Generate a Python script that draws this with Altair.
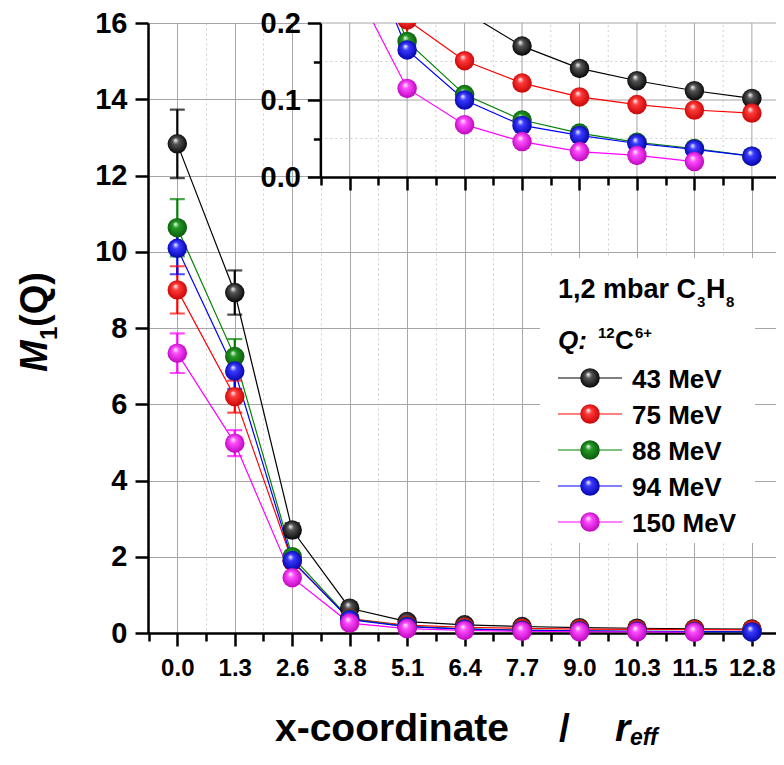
import altair as alt
import pandas as pd

# ---------------- data ----------------
x_labels = ["0.0", "1.3", "2.6", "3.8", "5.1", "6.4", "7.7", "9.0", "10.3", "11.5", "12.8"]
series_names = ["43 MeV", "75 MeV", "88 MeV", "94 MeV", "150 MeV"]
series_colors = ["#000000", "#ff0000", "#008000", "#0000ff", "#ff00ff"]
ball_mid = ["#555555", "#ff3a3a", "#239a23", "#3a3aff", "#ff4dff"]
ball_dark = ["#000000", "#c40000", "#0a550a", "#0000a8", "#b800b8"]

m_43 = [12.83, 8.93, 2.70, 0.65, 0.300, 0.215, 0.170, 0.141, 0.125, 0.112, 0.102]
m_75 = [9.00, 6.20, 1.88, 0.38, 0.204, 0.151, 0.122, 0.104, 0.094, 0.087, 0.083]
m_88 = [10.63, 7.25, 2.00, 0.37, 0.176, 0.107, 0.074, 0.057, 0.045, 0.037, 0.027]
m_94 = [10.09, 6.87, 1.90, 0.35, 0.165, 0.100, 0.067, 0.054, 0.0435, 0.036, 0.027]
m_150 = [7.34, 4.98, 1.45, 0.26, 0.115, 0.068, 0.046, 0.033, 0.028, 0.020, None]

e_43 = [0.90, 0.58, 0.18, 0.05, 0.020, 0.015, 0.012, 0.010, 0.009, 0.008, 0.007]
e_75 = [0.62, 0.42, 0.13, 0.03, 0.015, 0.011, 0.009, 0.008, 0.007, 0.006, 0.006]
e_88 = [0.75, 0.46, 0.14, 0.03, 0.013, 0.008, 0.006, 0.004, 0.003, 0.003, 0.002]
e_94 = [0.68, 0.47, 0.13, 0.03, 0.012, 0.007, 0.005, 0.004, 0.003, 0.003, 0.002]
e_150 = [0.52, 0.34, 0.10, 0.02, 0.008, 0.005, 0.003, 0.002, 0.002, 0.002, None]

main_y_ticks = [0, 1, 2, 3, 4, 5, 6, 7, 8, 9, 10, 11, 12, 13, 14, 15, 16]
main_x_ticks = [-0.5, 0, 0.5, 1, 1.5, 2, 2.5, 3, 3.5, 4, 4.5, 5, 5.5, 6, 6.5,
                7, 7.5, 8, 8.5, 9, 9.5, 10]
inset_x_ticks = [2.5, 3, 3.5, 4, 4.5, 5, 5.5, 6, 6.5, 7, 7.5, 8, 8.5, 9, 9.5, 10]
inset_y_ticks = [0, 0.05, 0.1, 0.15, 0.2]
inset_grid_x_major = [3, 4, 5, 6, 7, 8, 9, 10]
inset_grid_x_minor = [2.5, 3.5, 4.5, 5.5, 6.5, 7.5, 8.5, 9.5]
inset_grid_y_major = [0.1, 0.2]
inset_grid_y_minor = [0.05, 0.15]

main_x_domain = [-0.51, 10.42]
inset_x_domain = [2.49, 10.42]
inset_y_domain = [0, 0.2]

all_vals = [m_43, m_75, m_88, m_94, m_150]
all_errs = [e_43, e_75, e_88, e_94, e_150]

rows = []
for name, vals, errs in zip(series_names, all_vals, all_errs):
    for i, (v, e) in enumerate(zip(vals, errs)):
        if v is None:
            continue
        rows.append({"series": name, "xi": i, "v": v, "lo": v - e, "hi": v + e})
df = pd.DataFrame(rows)

FONT = "Liberation Sans"
W, H = 628, 610
INSET_H = 154


def px(i):
    return (i - main_x_domain[0]) / (main_x_domain[1] - main_x_domain[0]) * W


INSET_LEFT = px(inset_x_domain[0])

color_enc = alt.Color("series:N", scale=alt.Scale(domain=series_names, range=series_colors), legend=None)


def ball(mid, dark):
    return {
        "gradient": "radial",
        "x1": 0.4, "y1": 0.3, "r1": 0.0,
        "x2": 0.5, "y2": 0.5, "r2": 0.55,
        "stops": [
            {"offset": 0.0, "color": "#ffffff"},
            {"offset": 0.3, "color": mid},
            {"offset": 1.0, "color": dark},
        ],
    }


# ---------------- main axes ----------------
js_labels = "[" + ",".join("'" + s + "'" for s in x_labels) + "]"
main_x = alt.X(
    "xi:Q",
    scale=alt.Scale(domain=main_x_domain, nice=False, zero=False),
    axis=alt.Axis(
        values=main_x_ticks,
        labelExpr="datum.value % 1 === 0 ? " + js_labels + "[datum.value] : ''",
        tickSize={"condition": {"test": "datum.value % 1 === 0", "value": 13}, "value": 8},
        tickWidth=2.5, tickColor="black", domainColor="black", domainWidth=2.5,
        grid=True,
        gridColor={"condition": {"test": "datum.value % 1 === 0", "value": "#a6a6a6"}, "value": "#cfcfcf"},
        gridDash={"condition": {"test": "datum.value % 1 === 0", "value": []}, "value": [2, 3]},
        gridWidth=1,
        labelFont=FONT, labelFontSize=24, labelFontWeight="bold", labelColor="black",
        labelPadding=10, labelOverlap=False, labelFlush=False, labelBound=False,
        title=None,
    ),
)
main_y = alt.Y(
    "v:Q",
    scale=alt.Scale(domain=[0, 16], nice=False, zero=False),
    axis=alt.Axis(
        values=main_y_ticks,
        labelExpr="datum.value % 2 === 0 ? datum.label : ''",
        tickSize={"condition": {"test": "datum.value % 2 === 0", "value": 13}, "value": 8},
        tickWidth=2.5, tickColor="black", domainColor="black", domainWidth=2.5,
        grid=True,
        gridColor={"condition": {"test": "datum.value % 2 === 0", "value": "#a6a6a6"}, "value": "#cfcfcf"},
        gridDash={"condition": {"test": "datum.value % 2 === 0", "value": []}, "value": [2, 3]},
        gridWidth=1,
        labelFont=FONT, labelFontSize=29, labelFontWeight="bold", labelColor="black",
        labelPadding=8, labelOverlap=False, labelFlush=False, labelBound=False,
        title=None,
    ),
)

base = alt.Chart(df)
main_layers = [
    base.mark_line(strokeWidth=1.2).encode(x=main_x, y=main_y, color=color_enc),
    base.mark_rule(strokeWidth=2.2).encode(x=main_x, y=alt.Y("lo:Q"), y2="hi:Q", color=color_enc),
    base.mark_tick(orient="horizontal", thickness=2.2, size=15).encode(x=main_x, y=alt.Y("lo:Q"), color=color_enc),
    base.mark_tick(orient="horizontal", thickness=2.2, size=15).encode(x=main_x, y=alt.Y("hi:Q"), color=color_enc),
]
for name, mid, dark in zip(series_names, ball_mid, ball_dark):
    main_layers.append(
        alt.Chart(df[df.series == name]).mark_point(filled=True, fill=ball(mid, dark), size=380, opacity=1)
        .encode(x=main_x, y=main_y)
    )

# ---------------- text helpers (titles, legend) ----------------
one = pd.DataFrame({"k": [0]})


def txt(s, x, y, size, italic=False, angle=0, align="left", baseline="alphabetic"):
    kw = dict(text=s, font=FONT, fontSize=size, fontWeight="bold", color="black",
              align=align, baseline=baseline)
    if italic:
        kw["fontStyle"] = "italic"
    if angle:
        kw["angle"] = angle
    return alt.Chart(one).mark_text(**kw).encode(x=alt.value(x), y=alt.value(y))


ox, oy = 148, 23  # plot origin on the page
deco = []
# y title  M1(Q)
deco.append(txt("M", 47 - ox, 372 - oy, 38, italic=True, angle=270))
deco.append(txt("1", 57 - ox, 340 - oy, 24, angle=270))
deco.append(txt("(Q)", 47 - ox, 327 - oy, 38, angle=270))
# x title
deco.append(txt("x-coordinate", 275 - ox, 741 - oy, 39))
deco.append(txt("/", 559 - ox, 741 - oy, 39))
deco.append(txt("r", 615 - ox, 741 - oy, 39, italic=True))
deco.append(txt("eff", 630 - ox, 745 - oy, 23, italic=True))

# legend box
deco.append(
    alt.Chart(one).mark_rect(color="white", opacity=1).encode(
        x=alt.value(540 - ox), x2=alt.value(755 - ox), y=alt.value(258 - oy), y2=alt.value(543 - oy))
)
deco.append(txt("1,2 mbar C", 558 - ox, 298 - oy, 27))
deco.append(txt("3", 697 - ox, 307 - oy, 15))
deco.append(txt("H", 706 - ox, 298 - oy, 27))
deco.append(txt("8", 726 - ox, 307 - oy, 15))
deco.append(txt("Q:", 558 - ox, 349 - oy, 26, italic=True))
deco.append(txt("12", 598 - ox, 338 - oy, 15))
deco.append(txt("C", 615 - ox, 349 - oy, 26))
deco.append(txt("6+", 635 - ox, 338 - oy, 15))
for i, (name, col, mid, dark) in enumerate(zip(series_names, series_colors, ball_mid, ball_dark)):
    cy = 378 + 36 * i
    deco.append(alt.Chart(one).mark_rule(color=col, strokeWidth=1.2).encode(
        x=alt.value(558 - ox), x2=alt.value(622 - ox), y=alt.value(cy - oy)))
    deco.append(alt.Chart(one).mark_point(filled=True, fill=ball(mid, dark), size=380, opacity=1).encode(
        x=alt.value(590 - ox), y=alt.value(cy - oy)))
    deco.append(txt(name, 632 - ox, cy + 9.5 - oy, 26))

main = alt.layer(*main_layers, *deco)

# ---------------- inset ----------------
inset_x = alt.X(
    "xi:Q",
    scale=alt.Scale(domain=inset_x_domain, range=[INSET_LEFT, W], nice=False, zero=False),
    axis=alt.Axis(
        orient="bottom", offset=-(H - INSET_H), zindex=1,
        values=inset_x_ticks, labels=False,
        tickSize={"condition": {"test": "datum.value % 1 === 0", "value": 13}, "value": 8},
        tickWidth=2.5, tickColor="black", domainColor="black", domainWidth=2.5,
        grid=False, title=None,
    ),
)
inset_y = alt.Y(
    "v:Q",
    scale=alt.Scale(domain=inset_y_domain, range=[INSET_H, 0], nice=False, zero=False),
    axis=alt.Axis(
        orient="left", offset=-INSET_LEFT, zindex=1,
        values=inset_y_ticks,
        labelExpr="round(datum.value * 20) % 2 === 0 ? format(datum.value, '.1f') : ''",
        tickSize={"condition": {"test": "round(datum.value * 20) % 2 === 0", "value": 13}, "value": 7},
        tickWidth=2.5, tickColor="black", domainColor="black", domainWidth=2.5,
        labelFont=FONT, labelFontSize=29, labelFontWeight="bold", labelColor="black",
        labelPadding=7, labelOverlap=False, labelFlush=False, labelBound=False,
        grid=False, title=None,
    ),
)

bg = pd.DataFrame({"xi": [inset_x_domain[0]], "xe": [inset_x_domain[1]],
                   "v": [inset_y_domain[0]], "ve": [inset_y_domain[1]]})
gx_major = pd.DataFrame({"xi": inset_grid_x_major, "v": 0.0, "ve": 0.2})
gx_minor = pd.DataFrame({"xi": inset_grid_x_minor, "v": 0.0, "ve": 0.2})
gy_major = pd.DataFrame({"v": inset_grid_y_major, "xi": inset_x_domain[0], "xe": inset_x_domain[1]})
gy_minor = pd.DataFrame({"v": inset_grid_y_minor, "xi": inset_x_domain[0], "xe": inset_x_domain[1]})

dfi = df[df.xi >= 3]
dfp = df[df.xi >= 4]
inset_layers = [
    alt.Chart(bg).mark_rect(color="white", opacity=1).encode(x=inset_x, x2="xe:Q", y=inset_y, y2="ve:Q"),
    alt.Chart(gx_minor).mark_rule(color="#cfcfcf", strokeDash=[2, 3], strokeWidth=1).encode(x=inset_x, y=inset_y, y2="ve:Q"),
    alt.Chart(gy_minor).mark_rule(color="#cfcfcf", strokeDash=[2, 3], strokeWidth=1).encode(x=inset_x, x2="xe:Q", y=inset_y),
    alt.Chart(gx_major).mark_rule(color="#a6a6a6", strokeWidth=1).encode(x=inset_x, y=inset_y, y2="ve:Q"),
    alt.Chart(gy_major).mark_rule(color="#a6a6a6", strokeWidth=1).encode(x=inset_x, x2="xe:Q", y=inset_y),
    alt.Chart(dfi).mark_line(strokeWidth=1.2, clip=True).encode(x=inset_x, y=inset_y, color=color_enc),
    alt.Chart(dfp).mark_rule(strokeWidth=2.2, clip=True).encode(x=inset_x, y=alt.Y("lo:Q"), y2="hi:Q", color=color_enc),
]
for name, mid, dark in zip(series_names, ball_mid, ball_dark):
    inset_layers.append(
        alt.Chart(dfp[dfp.series == name]).mark_point(filled=True, fill=ball(mid, dark), size=380, opacity=1, clip=True)
        .encode(x=inset_x, y=inset_y)
    )
inset = alt.layer(*inset_layers)

chart = (
    alt.layer(main, inset)
    .resolve_scale(x="independent", y="independent")
    .properties(
        width=W, height=H,
        padding={"left": 140, "top": 15, "right": 0, "bottom": 117},
        autosize=alt.AutoSizeParams(type="none"),
    )
    .configure_view(stroke=None)
    .configure(font=FONT)
)

chart.save("out.html", embed_options={"renderer": "svg", "actions": False})
